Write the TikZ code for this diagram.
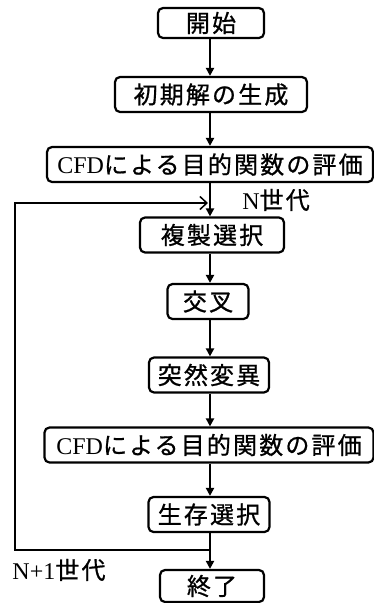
\documentclass[tikz,border=0pt]{standalone}
\usepackage{fontspec}
\setmainfont{Liberation Serif}
\newfontfamily\jp[LetterSpace=9,FakeBold=0.8]{Noto Sans CJK JP}
\usetikzlibrary{arrows.meta}
\tikzset{
  flowbox/.style={draw, line width=2.2pt, rounded corners=5pt, inner sep=0pt,
    minimum height=35pt, font=\fontsize{24}{26}\selectfont\jp, fill=white},
  flowarrow/.style={line width=2.2pt, -{Triangle[length=8pt,width=8pt]}},
  loopline/.style={line width=2.2pt, line join=miter,
    -{Straight Barb[length=7pt,width=13pt,line width=1.5pt]}},
  gen/.style={font=\fontsize{24}{26}\selectfont, inner sep=0pt},
}
\begin{document}
\begin{tikzpicture}[x=1pt,y=-1pt]
\useasboundingbox (0,0) rectangle (374,603);
\node[flowbox, minimum width=106pt, minimum height=30pt] (start) at (211,23) {開始};
\node[flowbox, minimum width=192pt] (init) at (211,94.5) {初期解の生成};
\node[flowbox, minimum width=326pt] (cfda) at (210,164.5) {{\rmfamily CFD}による目的関数の評価};
\node[flowbox, minimum width=144pt] (sel) at (212,235) {複製選択};
\node[flowbox, minimum width=81pt] (cross) at (208,301.5) {交叉};
\node[flowbox, minimum width=120pt] (mut) at (209,375) {突然変異};
\node[flowbox, minimum width=329pt] (cfdb) at (209,445) {{\rmfamily CFD}による目的関数の評価};
\node[flowbox, minimum width=121pt] (surv) at (209,514.5) {生存選択};
\node[flowbox, minimum width=104pt, minimum height=32pt] (stop) at (212,586) {終了};

\node[gen] (ngen) at (276,200) {N{\jp 世代}};
\node[gen] (n1gen) at (59,570) {N+1{\jp 世代}};

\coordinate (split) at (210,550);
\coordinate (lb) at (15,550);
\coordinate (lt) at (15,203);
\coordinate (join) at (208,203);

\draw[flowarrow] (start.south -| 210,0) -- (init.north -| 210,0);
\draw[flowarrow] (init.south -| 210,0) -- (cfda.north -| 210,0);
\draw[flowarrow] (cfda.south -| 210,0) -- (sel.north -| 210,0);
\draw[flowarrow] (sel.south -| 210,0) -- (cross.north -| 210,0);
\draw[flowarrow] (cross.south -| 210,0) -- (mut.north -| 210,0);
\draw[flowarrow] (mut.south -| 210,0) -- (cfdb.north -| 210,0);
\draw[flowarrow] (cfdb.south -| 210,0) -- (surv.north -| 210,0);
\draw[flowarrow] (surv.south -| 210,0) -- (stop.north -| 210,0);
\draw[loopline] (split) -- (lb) -- (lt) -- (join);
\end{tikzpicture}
\end{document}
